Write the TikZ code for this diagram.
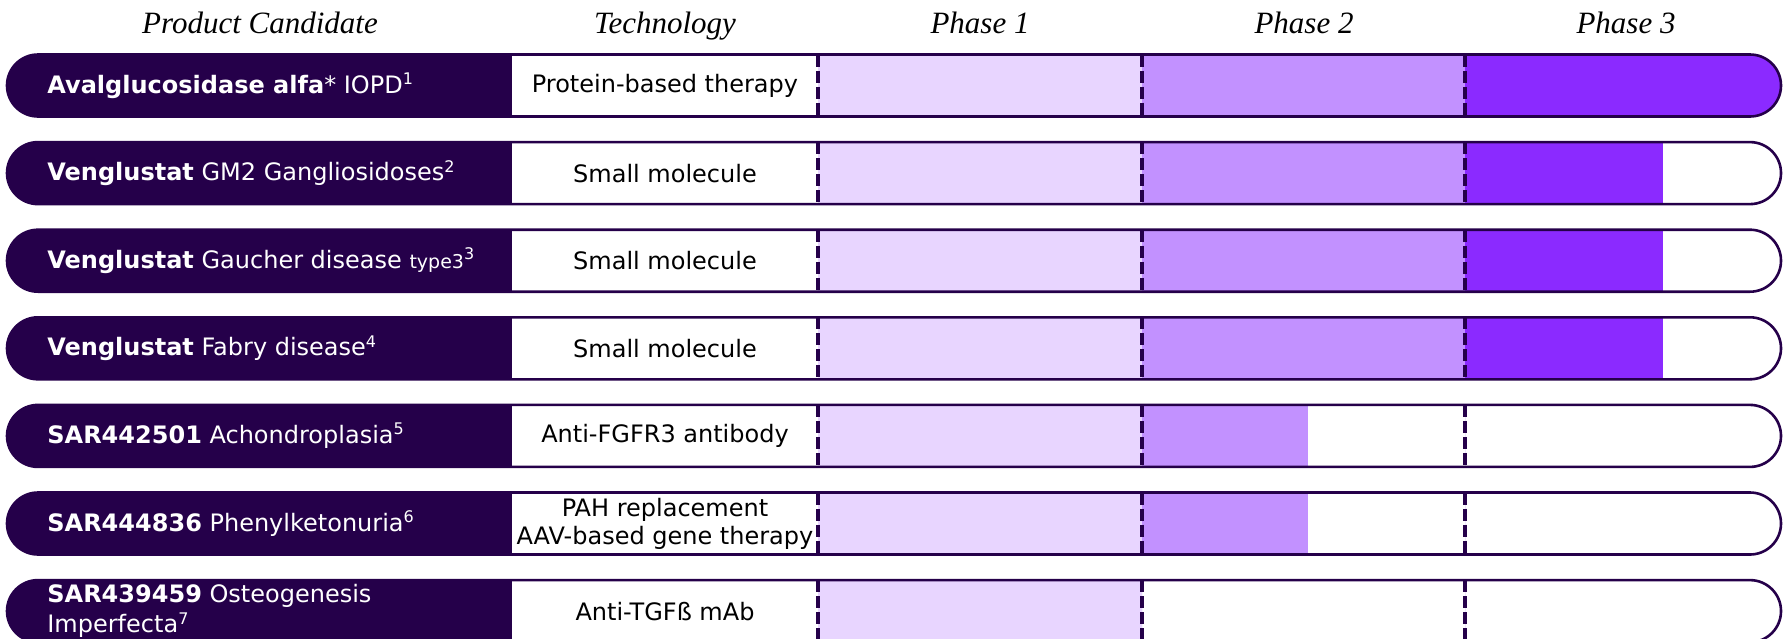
\documentclass[tikz,border=0pt]{standalone}
\usepackage{fontspec}
\setmainfont{DejaVu Sans}
\newfontfamily\headfont{Liberation Serif}
\definecolor{darkpurple}{HTML}{25004A}
\definecolor{phaseone}{HTML}{E8D5FF}
\definecolor{phasetwo}{HTML}{C291FF}
\definecolor{phasethree}{HTML}{8B2AFF}
\begin{document}
\begin{tikzpicture}
      [x=0.5pt, y=-0.5pt,
      header/.style={anchor=base, inner sep=0pt, font=\headfont\itshape\fontsize{15.5}{17}\selectfont},
      candidate/.style={anchor=west, inner sep=0pt, text=white, align=left, font=\fontsize{12}{15}\selectfont},
      techlabel/.style={inner sep=0pt, align=center, font=\fontsize{12}{14}\selectfont},
      phaseline/.style={darkpurple, line width=1.7pt, dash pattern=on 6pt off 2pt},
      rowline/.style={darkpurple, line width=1.3pt, rounded corners=15.5pt}]
      \useasboundingbox (0,0) rectangle (1783,638);
      \clip (0,0) rectangle (1783,638);
      \node[header] (hcand) at (260,33) {Product Candidate};
      \node[header] (htech) at (665,33) {Technology};
      \node[header] (hone) at (980,33) {Phase 1};
      \node[header] (htwo) at (1304,33) {Phase 2};
      \node[header] (hthree) at (1626,33) {Phase 3};
      \foreach \i/\cand/\tech/\twoend/\threeend in {
        1/{\textbf{Avalglucosidase alfa}* IOPD\textsuperscript{1}}/{Protein-based therapy}/1465/1781,
        2/{\textbf{Venglustat} GM2 Gangliosidoses\textsuperscript{2}}/{Small molecule}/1465/1663,
        3/{\textbf{Venglustat} Gaucher disease {\fontsize{9.5}{11}\selectfont type3}\textsuperscript{3}}/{Small molecule}/1465/1663,
        4/{\textbf{Venglustat} Fabry disease\textsuperscript{4}}/{Small molecule}/1465/1663,
        5/{\textbf{SAR442501} Achondroplasia\textsuperscript{5}}/{Anti-FGFR3 antibody}/1308/1465,
        6/{\textbf{SAR444836} Phenylketonuria\textsuperscript{6}}/{PAH replacement\\AAV-based gene therapy}/1308/1465,
        7/{\textbf{SAR439459} Osteogenesis\\Imperfecta\textsuperscript{7}}/{Anti-TGFß mAb}/1142/1465}
      {
        \pgfmathsetmacro{\mid}{85.5+87.6*(\i-1)}
        \pgfmathsetmacro{\top}{\mid-31}
        \pgfmathsetmacro{\bot}{\mid+31}
        \begin{scope}
          \clip[rounded corners=15.5pt] (7,\top) rectangle (1781,\bot);
          \fill[white] (7,\top) rectangle (1781,\bot);
          \fill[darkpurple] (7,\top) rectangle (512,\bot);
          \fill[phaseone] (818,\top) rectangle (1142,\bot);
          \fill[phasetwo] (1142,\top) rectangle (\twoend,\bot);
          \fill[phasethree] (1465,\top) rectangle (\threeend,\bot);
        \end{scope}
        \draw[rowline] (7,\top) rectangle (1781,\bot);
        \foreach \x in {818,1142,1465}
          \draw[phaseline] (\x,\top) -- (\x,\bot);
        \node[candidate] (cand\i) at (47,\mid) {\cand};
        \node[techlabel] (tech\i) at (665,\mid) {\tech};
      }
    \end{tikzpicture}
\end{document}
